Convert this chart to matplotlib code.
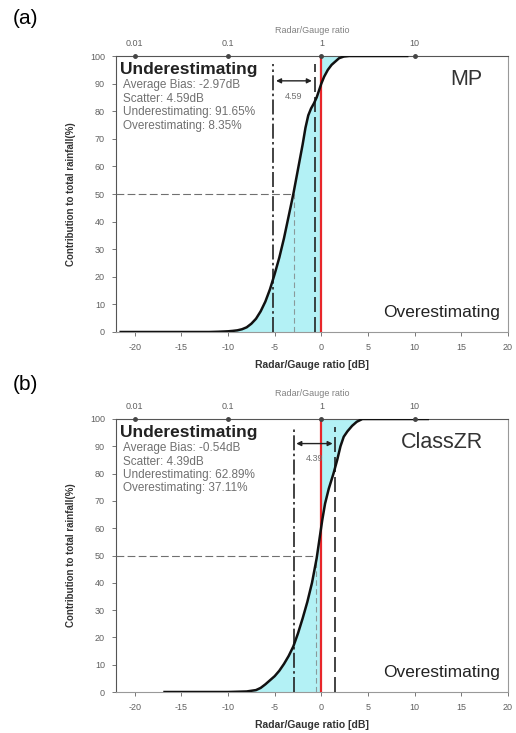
import numpy as np
import matplotlib.pyplot as plt

plt.rcParams['font.family'] = ['Liberation Sans', 'DejaVu Sans']

# panel data: cumulative contribution to total rainfall vs radar/gauge ratio (dB)
mp_db = [-21.5, -12, -11, -10, -9.5, -9, -8.5, -8, -7.5, -7, -6.5, -6, -5.5,
         -5, -4.5, -4, -3.5, -3, -2.5, -2, -1.7, -1.4, -1.1, -0.8, -0.5,
         -0.25, 0, 0.3, 0.7, 1.1, 1.5, 1.9, 2.4, 3, 9.2]
mp_pct = [0, 0, 0.1, 0.25, 0.4, 0.6, 1.0, 1.7, 3, 4.8, 7.5, 11, 15.5,
          21, 27, 34, 42, 50, 59, 68, 74, 78.5, 81, 82.8, 85,
          87.5, 90, 92.5, 95, 96.8, 98, 99.2, 99.8, 100, 100]

zr_db = [-16.8, -10, -8, -7, -6.5, -6, -5.5, -5, -4.5, -4, -3.5, -3, -2.5,
         -2, -1.5, -1, -0.5, -0.2, 0.1, 0.4, 0.8, 1.3, 1.7, 2.05, 2.4, 2.8,
         3.3, 3.8, 4.4, 11.4]
zr_pct = [0, 0, 0.2, 0.7, 1.5, 2.8, 4.3, 5.8, 7.8, 10.3, 13.2, 16.7, 21.5,
          27, 33, 40, 49, 56, 63, 69, 74.5, 80, 85, 90, 93.5, 95.5,
          97.5, 99, 100, 100]

names = ['MP', 'ClassZR']
bias = [-2.97, -0.54]
scatter = [4.59, 4.39]
under = [91.65, 62.89]
over = [8.35, 37.11]
lo_line = [-5.15, -2.98]
hi_line = [-0.72, 1.51]

ratio_ticks = [0.01, 0.1, 1, 10]
db_ticks = [-20, -15, -10, -5, 0, 5, 10, 15, 20]
pct_ticks = [0, 10, 20, 30, 40, 50, 60, 70, 80, 90, 100]

fig = plt.figure(figsize=(5.16, 7.33), dpi=100)

W, H = 516, 733
boxes = [(116, 56, 508, 332), (116, 419, 508, 692)]
panels = ['(a)', '(b)']
curves = [(mp_db, mp_pct), (zr_db, zr_pct)]
tick_col = '#606060'

for i in range(2):
    l, t, r, b = boxes[i]
    ax = fig.add_axes([l / W, 1 - b / H, (r - l) / W, (b - t) / H])
    x, y = curves[i]

    ax.fill_betweenx(y, x, 0, color='#b3f1f5', lw=0)
    ax.axvline(0, color='#e8262a', lw=1.6, zorder=3)

    ax.plot([lo_line[i]] * 2, [0, 97], color='#222222', lw=1.2,
            ls=(0, (9, 2, 1.5, 2)), zorder=4)
    ax.plot([hi_line[i]] * 2, [0, 97], color='#222222', lw=1.2,
            ls=(0, (9, 3)), zorder=4)
    ax.plot([bias[i]] * 2, [0, 50], color='#8a9a9a', lw=0.8,
            ls=(0, (5, 3)), zorder=4)
    ax.plot([-22, bias[i]], [50, 50], color='#707070', lw=0.8,
            ls=(0, (7, 3)), zorder=4)
    ax.annotate('', xy=(lo_line[i], 91), xytext=(hi_line[i], 91),
                arrowprops=dict(arrowstyle='<|-|>', color='#222222', lw=1,
                                mutation_scale=7), zorder=5)
    ax.text((lo_line[i] + hi_line[i]) / 2, 85.5, '%.2f' % scatter[i],
            ha='center', va='center', fontsize=6.5, color='#707070')

    ax.plot(x, y, color='#111111', lw=1.8, zorder=6)

    ax.text(-21.6, 95, 'Underestimating', fontsize=12.5, fontweight='bold',
            ha='left', va='center', color='#222222')
    ax.text(-21.3, 91.5,
            'Average Bias: %.2fdB\nScatter: %.2fdB\nUnderestimating: %.2f%%\n'
            'Overestimating: %.2f%%' % (bias[i], scatter[i], under[i], over[i]),
            fontsize=8.5, color='#707070', ha='left', va='top', linespacing=1.15)
    ax.text(17.3, 91.5, names[i], fontsize=15.5, ha='right', va='center',
            color='#333333')
    ax.text(19.1, 7, 'Overestimating', fontsize=12.5, ha='right', va='center',
            color='#222222')

    ax.set_xlim(-22, 20)
    ax.set_ylim(0, 100)
    ax.set_xticks(db_ticks)
    ax.set_xticklabels([str(v) for v in db_ticks])
    ax.set_yticks(pct_ticks)
    ax.tick_params(labelsize=6.5, colors=tick_col, length=3, width=0.6, pad=5)
    ax.set_xlabel('Radar/Gauge ratio [dB]', fontsize=7.5, fontweight='bold',
                  color='#333333', labelpad=6)
    ax.set_ylabel('Contribution to total rainfall(%)', fontsize=7,
                  fontweight='bold', color='#333333', labelpad=10)
    for s in ['bottom', 'right']:
        ax.spines[s].set_color('#999999')
    for s in ['top', 'left']:
        ax.spines[s].set_color('#555555')

    # top axis: plain ratio on log scale
    top = ax.twiny()
    top.set_xlim(-22, 20)
    tdb = [10 * np.log10(v) for v in ratio_ticks]
    top.set_xticks(tdb)
    top.set_xticklabels([('%g' % v) for v in ratio_ticks])
    top.tick_params(labelsize=6.5, colors=tick_col, length=0, pad=6)
    top.set_xlabel('Radar/Gauge ratio', fontsize=6.5, color='#808080',
                   labelpad=4)
    ax.plot(tdb, [100] * len(tdb), 'o', color='#444444', ms=2.5,
            clip_on=False, zorder=7)
    for s in top.spines.values():
        s.set_visible(False)

    fig.text(13 / W, 1 - (18 + 367 * i) / H, panels[i], fontsize=15,
             ha='left', va='center')

fig.savefig('out.png', dpi=100)
